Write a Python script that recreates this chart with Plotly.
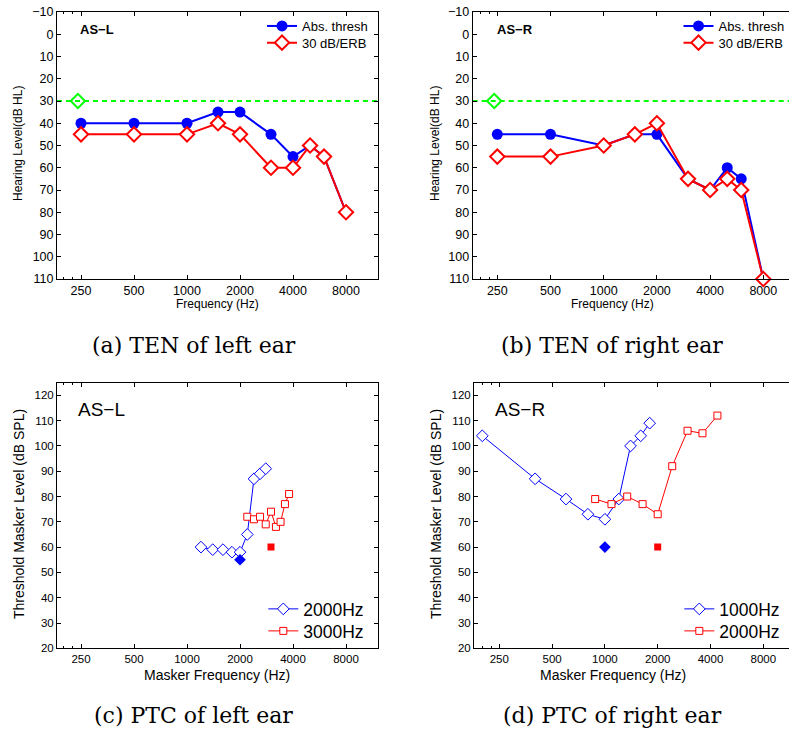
import math
import plotly.graph_objects as go

W, H = 789, 730

# ---- data -------------------------------------------------------------
ten_freq = [250, 500, 1000, 1500, 2000, 3000, 4000, 5000, 6000, 8000]
left_abs = [40, 40, 40, 35, 35, 45, 55, 50, 55, 80]
left_ten = [45, 45, 45, 40, 45, 60, 60, 50, 55, 80]
right_abs = [45, 45, 50, 45, 45, 65, 70, 60, 65, 110]
right_ten = [55, 55, 50, 45, 40, 65, 70, 65, 70, 110]
ref_level = 30
ref_freq = 240

ptc_l_2000_f = [1200, 1400, 1600, 1800, 2000, 2200, 2400, 2600, 2800]
ptc_l_2000_db = [60, 59, 59, 58, 58, 65, 87, 89, 91]
ptc_l_3000_f = [2200, 2400, 2600, 2800, 3000, 3200, 3400, 3600, 3800]
ptc_l_3000_db = [72, 71, 72, 69, 74, 68, 70, 77, 81]
probe_l_f = [2000, 3000]
probe_l_db = [55, 60]

ptc_r_1000_f = [200, 400, 600, 800, 1000, 1200, 1400, 1600, 1800]
ptc_r_1000_db = [104, 87, 79, 73, 71, 79, 100, 104, 109]
ptc_r_2000_f = [880, 1090, 1340, 1640, 2000, 2420, 2960, 3600, 4380]
ptc_r_2000_db = [79, 77, 80, 77, 73, 92, 106, 105, 112]
probe_r_f = [1000, 2000]
probe_r_db = [60, 60]

freq_ticks = [250, 500, 1000, 2000, 4000, 8000]
freq_labels = ["250", "500", "1000", "2000", "4000", "8000"]
hl_ticks = list(range(-10, 111, 10))
spl_ticks = list(range(20, 121, 10))

BLUE, RED, GREEN = "#0000ff", "#ff0000", "#00ff00"
SANS = "Liberation Sans, Arial, sans-serif"
SERIF = "DejaVu Serif, serif"


def px(x):
    return x / W


def py(y):
    return 1 - y / H


def log_range(px_lo, px_hi, px_250, px_oct):
    l2 = math.log10(2)
    lo = math.log10(250) + (px_lo - px_250) / px_oct * l2
    hi = math.log10(250) + (px_hi - px_250) / px_oct * l2
    return [lo, hi]


def xaxis(dom, rng, font_size):
    return dict(
        type="log", domain=dom, range=rng, automargin=False,
        tickmode="array", tickvals=freq_ticks, ticktext=freq_labels,
        ticks="inside", ticklen=4, tickcolor="black", tickwidth=1,
        showline=True, linecolor="black", linewidth=1, mirror="ticks",
        showgrid=False, zeroline=False,
        tickfont=dict(family=SANS, size=font_size, color="black"),
        minor=dict(tickvals=[200, 225], ticks="inside", ticklen=2, tickcolor="black", showgrid=False),
    )


def yaxis(dom, rng, vals, font_size, mirror):
    return dict(
        domain=dom, range=rng, automargin=False,
        tickmode="array", tickvals=vals,
        ticks="inside", ticklen=4, tickcolor="black", tickwidth=1,
        showline=True, linecolor="black", linewidth=1,
        mirror="ticks" if mirror else False,
        showgrid=False, zeroline=False,
        tickfont=dict(family=SANS, size=font_size, color="black"),
    )


fig = go.Figure()

# ---- (a) / (b) audiograms with TEN thresholds --------------------------
for i, (absv, tenv) in enumerate([(left_abs, left_ten), (right_abs, right_ten)]):
    xa, ya = ("x", "y") if i == 0 else ("x2", "y2")
    leg_a, leg_b = ("legend", "legend2") if i == 0 else ("legend3", "legend4")
    fig.add_trace(go.Scatter(
        x=[ref_freq], y=[ref_level], xaxis=xa, yaxis=ya, mode="markers",
        marker=dict(symbol="diamond-open", size=11, color=GREEN, line=dict(width=2)),
        showlegend=False, hoverinfo="skip", cliponaxis=False))
    fig.add_trace(go.Scatter(
        x=ten_freq, y=absv, xaxis=xa, yaxis=ya, mode="lines+markers",
        name="Abs. thresh", legend=leg_a, cliponaxis=False,
        line=dict(color=BLUE, width=2),
        marker=dict(symbol="circle", size=11, color=BLUE)))
    fig.add_trace(go.Scatter(
        x=ten_freq, y=tenv, xaxis=xa, yaxis=ya, mode="lines+markers",
        name="30 dB/ERB", legend=leg_b, cliponaxis=False,
        line=dict(color=RED, width=2),
        marker=dict(symbol="diamond", size=11, color="white",
                    line=dict(color=RED, width=2))))
    fig.add_shape(type="line", xref=f"{xa} domain", yref=ya,
                  x0=0, x1=1, y0=ref_level, y1=ref_level,
                  line=dict(color=GREEN, width=2, dash="5px,4px"), layer="below")

# ---- (c) / (d) psychophysical tuning curves ----------------------------
ptc_sets = [
    (ptc_l_2000_f, ptc_l_2000_db, "2000Hz", ptc_l_3000_f, ptc_l_3000_db, "3000Hz", probe_l_f, probe_l_db),
    (ptc_r_1000_f, ptc_r_1000_db, "1000Hz", ptc_r_2000_f, ptc_r_2000_db, "2000Hz", probe_r_f, probe_r_db),
]
for i, (f1, d1, n1, f2, d2, n2, pf, pd) in enumerate(ptc_sets):
    xa, ya = ("x3", "y3") if i == 0 else ("x4", "y4")
    leg_a, leg_b = ("legend5", "legend6") if i == 0 else ("legend7", "legend8")
    fig.add_trace(go.Scatter(
        x=f1, y=d1, xaxis=xa, yaxis=ya, mode="lines+markers", name=n1, legend=leg_a,
        line=dict(color=BLUE, width=1), cliponaxis=False,
        marker=dict(symbol="diamond", size=9, color="white", line=dict(color=BLUE, width=1))))
    fig.add_trace(go.Scatter(
        x=f2, y=d2, xaxis=xa, yaxis=ya, mode="lines+markers", name=n2, legend=leg_b,
        line=dict(color=RED, width=1), cliponaxis=False,
        marker=dict(symbol="square", size=7, color="white", line=dict(color=RED, width=1))))
    fig.add_trace(go.Scatter(
        x=[pf[0]], y=[pd[0]], xaxis=xa, yaxis=ya, mode="markers", showlegend=False,
        marker=dict(symbol="diamond", size=9, color=BLUE)))
    fig.add_trace(go.Scatter(
        x=[pf[1]], y=[pd[1]], xaxis=xa, yaxis=ya, mode="markers", showlegend=False,
        marker=dict(symbol="square", size=7, color=RED)))

# ---- axes --------------------------------------------------------------
top_dom = [py(279), py(12)]
bot_dom = [py(648.3), py(382.7)]

layout_axes = dict(
    xaxis=dict(xaxis([px(57), px(378)], log_range(57, 378, 81, 53), 12.5), anchor="y"),
    yaxis=dict(yaxis(top_dom, [110, -10], hl_ticks, 12.5, True), anchor="x"),
    xaxis2=dict(xaxis([px(472.7), 1.0], log_range(472.7, 789, 497.3, 53.2), 12.5), anchor="y2"),
    yaxis2=dict(yaxis(top_dom, [110, -10], hl_ticks, 12.5, False), anchor="x2"),
    xaxis3=dict(xaxis([px(57), px(378)], log_range(57, 378, 81, 53), 11.5), anchor="y3"),
    yaxis3=dict(yaxis(bot_dom, [20, 125], spl_ticks, 11.5, True), anchor="x3"),
    xaxis4=dict(xaxis([px(474), 1.0], log_range(474, 789, 499.3, 52.8), 11.5), anchor="y4"),
    yaxis4=dict(yaxis(bot_dom, [20, 125], spl_ticks, 11.5, False), anchor="x4"),
)


def legend_at(line_start, y_mid, size):
    # one entry per legend box, so each row can be placed on its own
    return dict(x=px(line_start - 5), y=py(y_mid), xanchor="left", yanchor="middle",
                bgcolor="rgba(0,0,0,0)", borderwidth=0, itemwidth=30,
                font=dict(family=SANS, size=size, color="black"),
                tracegroupgap=0)


ann = []


def text(x, y, s, size, family=SANS, angle=0, bold=False, xanchor="center"):
    ann.append(dict(x=px(x), y=py(y), xref="paper", yref="paper", text=f"<b>{s}</b>" if bold else s,
                    showarrow=False, textangle=angle, xanchor=xanchor, yanchor="middle",
                    font=dict(family=family, size=size, color="black")))


# axis titles
text(18, 144, "Hearing Level(dB HL)", 12, angle=-90)
text(435, 144, "Hearing Level(dB HL)", 12, angle=-90)
text(217, 304, "Frequency (Hz)", 12)
text(612, 304, "Frequency (Hz)", 12)
text(19, 514, "Threshold Masker Level (dB SPL)", 14, angle=-90)
text(436, 514, "Threshold Masker Level (dB SPL)", 14, angle=-90)
text(217, 675, "Masker Frequency (Hz)", 14)
text(613, 675, "Masker Frequency (Hz)", 14)

# subject labels
text(78, 29, "AS\u2212L", 13, bold=True, xanchor="left")
text(495, 29, "AS\u2212R", 13, bold=True, xanchor="left")
text(76, 409, "AS\u2212L", 19, xanchor="left")
text(493, 409, "AS\u2212R", 19, xanchor="left")

# sub-figure captions
text(194, 346, "(a) TEN of left ear", 22, family=SERIF)
text(612, 346, "(b) TEN of right ear", 22, family=SERIF)
text(193, 715, "(c) PTC of left ear", 22, family=SERIF)
text(612, 715, "(d) PTC of right ear", 22, family=SERIF)

fig.update_layout(
    template="none",
    width=W, height=H,
    margin=dict(l=0, r=0, t=0, b=0, pad=0, autoexpand=False),
    paper_bgcolor="white", plot_bgcolor="white",
    font=dict(family=SANS, color="black"),
    showlegend=True,
    legend=legend_at(267, 26, 13),
    legend2=legend_at(267, 42.7, 13),
    legend3=legend_at(683.5, 26, 13),
    legend4=legend_at(683.5, 42.7, 13),
    legend5=legend_at(268.3, 609, 17.5),
    legend6=legend_at(268.3, 631, 17.5),
    legend7=legend_at(684.3, 609, 17.5),
    legend8=legend_at(684.3, 631, 17.5),
    annotations=ann,
    **layout_axes,
)

fig.write_html("out.html")
